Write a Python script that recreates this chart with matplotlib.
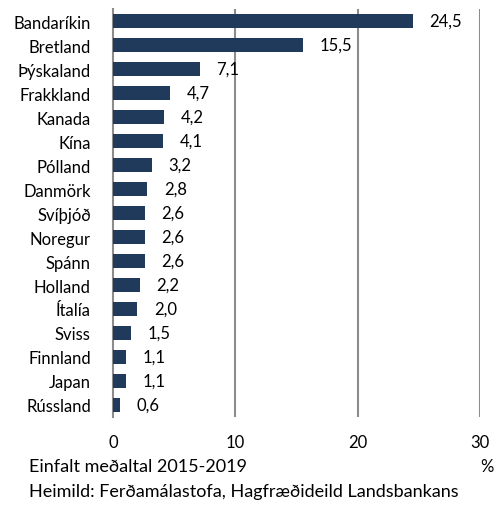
import matplotlib
matplotlib.use("Agg")
import matplotlib.pyplot as plt

# Data
countries = ["Bandaríkin", "Bretland", "Þýskaland", "Frakkland", "Kanada", "Kína",
             "Pólland", "Danmörk", "Svíþjóð", "Noregur", "Spánn", "Holland",
             "Ítalía", "Sviss", "Finnland", "Japan", "Rússland"]
values = [24.5, 15.5, 7.1, 4.7, 4.2, 4.1, 3.2, 2.8, 2.6, 2.6, 2.6, 2.2,
          2.0, 1.5, 1.1, 1.1, 0.6]
xticks = [0, 10, 20, 30]

plt.rcParams["font.family"] = ["Lato", "DejaVu Sans"]
FS = 12
FOOT_FS = 13
BAR_COLOR = "#1f3a5a"
GRID_COLOR = "#8c8c8c"

fig = plt.figure(figsize=(5.01, 5.06), dpi=100)
ax = fig.add_axes([0.2255, 0.174, 0.7325, 0.806])

ypos = list(range(len(countries)))
ax.barh(ypos, values, height=0.58, color=BAR_COLOR, zorder=3)
ax.set_ylim(len(countries) - 0.5, -0.5)
ax.set_xlim(0, 30)

# value labels with comma decimal separator
for y, v in zip(ypos, values):
    ax.text(v + 1.35, y, f"{v:.1f}".replace(".", ","), va="center", ha="left",
            fontsize=FS, zorder=4)

ax.set_yticks(ypos)
ax.set_yticklabels(countries, fontsize=FS)
ax.set_xticks(xticks)
ax.set_xticklabels([str(t) for t in xticks], fontsize=FS)
ax.tick_params(axis="both", length=0)
ax.tick_params(axis="y", pad=16)
ax.tick_params(axis="x", pad=12)

for side in ["top", "right", "bottom"]:
    ax.spines[side].set_visible(False)
ax.spines["left"].set_color(GRID_COLOR)
ax.spines["left"].set_linewidth(1.5)

for t in xticks[1:]:
    ax.axvline(t, color=GRID_COLOR, linewidth=1.5, zorder=1)

fig.text(29 / 501, 1 - 467 / 506, "Einfalt meðaltal 2015-2019", fontsize=FOOT_FS, va="center")
fig.text(29 / 501, 1 - 492 / 506, "Heimild: Ferðamálastofa, Hagfræðideild Landsbankans",
         fontsize=FOOT_FS, va="center")
fig.text(487 / 501, 1 - 467 / 506, "%", fontsize=FS, va="center", ha="center")

fig.savefig("out.png", dpi=100)
